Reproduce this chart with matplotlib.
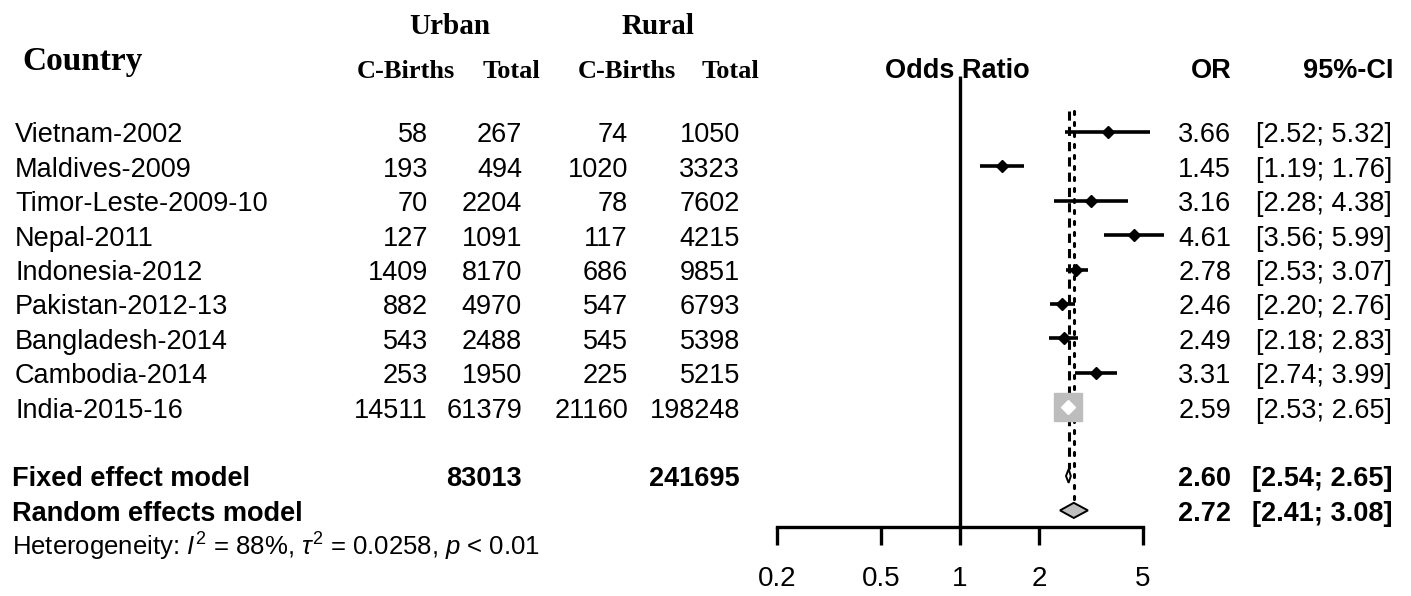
import matplotlib
matplotlib.use("Agg")
import matplotlib.pyplot as plt
from matplotlib.patches import Polygon

# ---------------- data ----------------
countries = ["Vietnam-2002", "Maldives-2009", "Timor-Leste-2009-10", "Nepal-2011",
             "Indonesia-2012", "Pakistan-2012-13", "Bangladesh-2014",
             "Cambodia-2014", "India-2015-16"]
urban_cbirths = [58, 193, 70, 127, 1409, 882, 543, 253, 14511]
urban_total = [267, 494, 2204, 1091, 8170, 4970, 2488, 1950, 61379]
rural_cbirths = [74, 1020, 78, 117, 686, 547, 545, 225, 21160]
rural_total = [1050, 3323, 7602, 4215, 9851, 6793, 5398, 5215, 198248]
odds_ratio = [3.66, 1.45, 3.16, 4.61, 2.78, 2.46, 2.49, 3.31, 2.59]
ci_lower = [2.52, 1.19, 2.28, 3.56, 2.53, 2.20, 2.18, 2.74, 2.53]
ci_upper = [5.32, 1.76, 4.38, 5.99, 3.07, 2.76, 2.83, 3.99, 2.65]
fixed_or = [2.60, 2.54, 2.65]
random_or = [2.72, 2.41, 3.08]
fixed_totals = [83013, 241695]
x_ticks = [0.2, 0.5, 1, 2, 5]
x_tick_labels = ["0.2", "0.5", "1", "2", "5"]
i2, tau2, pval = "88", "0.0258", "< 0.01"

# ---------------- figure ----------------
W, H = 1411, 596
plt.rcParams["font.family"] = ["Liberation Sans", "DejaVu Sans"]
plt.rcParams["mathtext.fontset"] = "custom"
plt.rcParams["mathtext.rm"] = "Liberation Sans"
plt.rcParams["mathtext.it"] = "Liberation Sans:italic"
plt.rcParams["mathtext.bf"] = "Liberation Sans:bold"

fig = plt.figure(figsize=(W / 100, H / 100), dpi=100)
fig.patch.set_facecolor("white")

ROW0, DROW = 132.0, 34.4          # pixel centre of first row, row spacing
FS = 19.5


def T(x, y, s, ha="left", size=FS, weight="normal", family=None, **kw):
    fig.text(x / W, 1 - y / H, s, ha=ha, va="baseline", fontsize=size,
             fontweight=weight, family=family or ["Liberation Sans", "DejaVu Sans"], **kw)


def base(i):
    return ROW0 + DROW * i + 10.5


serif = ["Liberation Serif", "DejaVu Serif"]
# headers
T(22, 70, "Country", size=24, weight="bold", family=serif)
T(450, 34, "Urban", ha="center", size=21, weight="bold", family=serif)
T(658, 34, "Rural", ha="center", size=21, weight="bold", family=serif)
T(406, 78, "C-Births", ha="center", size=19, weight="bold", family=serif)
T(511, 78, "Total", ha="center", size=19, weight="bold", family=serif)
T(627, 78, "C-Births", ha="center", size=19, weight="bold", family=serif)
T(730, 78, "Total", ha="center", size=19, weight="bold", family=serif)
T(957, 78, "Odds Ratio", ha="center", size=FS, weight="bold")
T(1232, 78, "OR", ha="right", size=FS, weight="bold")
T(1394, 78, "95%-CI", ha="right", size=FS, weight="bold")

# study rows
for i, c in enumerate(countries):
    y = base(i)
    T(15, y, c)
    T(428, y, f"{urban_cbirths[i]}", ha="right")
    T(522, y, f"{urban_total[i]}", ha="right")
    T(628, y, f"{rural_cbirths[i]}", ha="right")
    T(740, y, f"{rural_total[i]}", ha="right")
    T(1231, y, f"{odds_ratio[i]:.2f}", ha="right")
    T(1392, y, f"[{ci_lower[i]:.2f}; {ci_upper[i]:.2f}]", ha="right")

# summary rows
yf, yr = base(10), base(11)
T(12, yf, "Fixed effect model", weight="bold")
T(522, yf, f"{fixed_totals[0]}", ha="right", weight="bold")
T(740, yf, f"{fixed_totals[1]}", ha="right", weight="bold")
T(1231, yf, f"{fixed_or[0]:.2f}", ha="right", weight="bold")
T(1392, yf, f"[{fixed_or[1]:.2f}; {fixed_or[2]:.2f}]", ha="right", weight="bold")
T(12, yr, "Random effects model", weight="bold")
T(1231, yr, f"{random_or[0]:.2f}", ha="right", weight="bold")
T(1392, yr, f"[{random_or[1]:.2f}; {random_or[2]:.2f}]", ha="right", weight="bold")
T(12, base(12), r"Heterogeneity: $I^2$ = " + i2 + r"%, $\tau^2$ = " + tau2
  + r", $p$ " + pval, size=18.5)

# ---------------- forest panel ----------------
x_left, x_right = 777, 1143
y_top, y_axis = 76, 527
ax = fig.add_axes([x_left / W, 1 - y_axis / H, (x_right - x_left) / W, (y_axis - y_top) / H])
ax.set_xscale("log")
ax.set_xlim(0.2, 5)
ax.set_ylim((y_axis - ROW0) / DROW, (y_top - ROW0) / DROW)
ax.patch.set_alpha(0)
for s in ["top", "right", "left"]:
    ax.spines[s].set_visible(False)
ax.spines["bottom"].set_linewidth(2.4)
ax.set_yticks([])
ax.set_xticks(x_ticks)
ax.set_xticklabels(x_tick_labels)
ax.minorticks_off()
ax.tick_params(axis="x", direction="out", length=13, width=2.4, pad=15, labelsize=20)

ylo, yhi = ax.get_ylim()
ax.plot([1, 1], [ylo, yhi], color="black", lw=2.4, solid_capstyle="butt")

# fixed (dashed) and random (dotted) reference lines
ax.plot([fixed_or[0]] * 2, [-0.6, 9.8], color="black", lw=2.2, ls=(0, (3, 2)))
ax.plot([random_or[0]] * 2, [-0.6, 10.7], color="black", lw=2.2, ls=(0, (1, 2.6)),
        dash_capstyle="round")

rows = list(range(len(countries)))
for i in rows:
    if i == len(countries) - 1:
        ax.plot(odds_ratio[i], i, marker="s", ms=20, color="#bdbdbd", zorder=3)
        ax.hlines(i, ci_lower[i], ci_upper[i], color="white", lw=2, zorder=4)
        ax.plot(odds_ratio[i], i, marker="D", ms=7, color="white", zorder=5)
    else:
        ax.hlines(i, ci_lower[i], ci_upper[i], color="black", lw=2.6, zorder=3, clip_on=False)
        ax.plot(odds_ratio[i], i, marker="D", ms=6.5, color="black", zorder=4, clip_on=False)


def diamond(est, lo, hi, yy, h, fc):
    ax.add_patch(Polygon([(lo, yy), (est, yy - h), (hi, yy), (est, yy + h)],
                         closed=True, facecolor=fc, edgecolor="black", lw=1.4, zorder=5))


diamond(fixed_or[0], fixed_or[1], fixed_or[2], 10, 0.2, "white")
diamond(random_or[0], random_or[1], random_or[2], 11, 0.22, "#bebebe")

fig.savefig("out.png", dpi=100, facecolor="white")
